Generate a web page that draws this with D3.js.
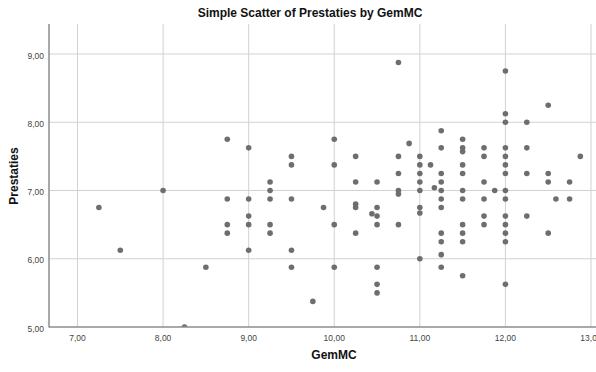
<!DOCTYPE html>
<html>
<head>
<meta charset="utf-8">
<script src="https://cdn.jsdelivr.net/npm/d3@7"></script>
<style>
  body { margin: 0; background: #fff; }
  svg { display: block; font-family: "Liberation Sans", Arial, sans-serif; }
</style>
</head>
<body>
<div id="chart"></div>
<script>
// data
const gemMC = [
  7.25, 7.5, 8.0, 8.25, 8.5, 8.75, 8.75, 8.75, 8.75,
  9.0, 9.0, 9.0, 9.0, 9.0, 9.25, 9.25, 9.25, 9.25, 9.25,
  9.5, 9.5, 9.5, 9.5, 9.5, 9.75, 9.875,
  10.0, 10.0, 10.0, 10.0, 10.25, 10.25, 10.25, 10.25, 10.25, 10.44,
  10.5, 10.5, 10.5, 10.5, 10.5, 10.5, 10.5,
  10.75, 10.75, 10.75, 10.75, 10.75, 10.75, 10.875,
  11.0, 11.0, 11.0, 11.0, 11.0, 11.0, 11.0, 11.0, 11.125, 11.17,
  11.25, 11.25, 11.25, 11.25, 11.25, 11.25, 11.25, 11.25, 11.25, 11.25, 11.25,
  11.5, 11.5, 11.5, 11.5, 11.5, 11.5, 11.5, 11.5, 11.5, 11.5, 11.5,
  11.75, 11.75, 11.75, 11.75, 11.75, 11.75, 11.875,
  12.0, 12.0, 12.0, 12.0, 12.0, 12.0, 12.0, 12.0, 12.0, 12.0, 12.0, 12.0, 12.0, 12.0,
  12.25, 12.25, 12.25, 12.25, 12.5, 12.5, 12.5, 12.5, 12.59, 12.75, 12.75, 12.875
];
const prestaties = [
  6.75, 6.125, 7.0, 5.0, 5.875, 7.75, 6.875, 6.5, 6.375,
  7.625, 6.875, 6.625, 6.5, 6.125, 7.125, 7.0, 6.875, 6.5, 6.375,
  7.5, 7.375, 6.875, 6.125, 5.875, 5.375, 6.75,
  7.75, 7.375, 6.5, 5.875, 7.5, 7.125, 6.8, 6.75, 6.375, 6.66,
  7.125, 6.75, 6.625, 6.5, 5.875, 5.625, 5.5,
  8.875, 7.5, 7.25, 7.0, 6.95, 6.5, 7.69,
  7.5, 7.375, 7.25, 7.125, 7.0, 6.75, 6.67, 6.0, 7.375, 7.04,
  7.875, 7.625, 7.25, 7.125, 7.0, 6.875, 6.75, 6.375, 6.25, 6.06, 5.875,
  7.75, 7.625, 7.57, 7.375, 7.25, 7.0, 6.875, 6.5, 6.375, 6.25, 5.75,
  7.625, 7.5, 7.125, 6.875, 6.625, 6.5, 7.0,
  8.75, 8.125, 8.0, 7.625, 7.5, 7.375, 7.25, 7.0, 6.875, 6.625, 6.5, 6.375, 6.25, 5.625,
  8.0, 7.625, 7.25, 6.625, 8.25, 7.25, 7.125, 6.375, 6.875, 7.125, 6.875, 7.5
];
const xTicks = [7, 8, 9, 10, 11, 12, 13];
const yTicks = [5, 6, 7, 8, 9];

const width = 596;
const height = 372;

// plot frame in pixels
const plotLeft = 49;
const plotTop = 24;
const plotBottom = 327;
const plotRight = 600;

const x = d3.scaleLinear().domain([7, 13]).range([77.5, 591]);
const y = d3.scaleLinear().domain([5, 9]).range([plotBottom, 54]);

const fmt = d3.formatLocale({decimal: ',', thousands: '.', grouping: [3], currency: ['', '']}).format('.2f');

const svg = d3.select('#chart').append('svg')
  .attr('width', width)
  .attr('height', height);

// grid
const grid = svg.append('g').attr('class', 'grid');
grid.selectAll('line.v')
  .data(xTicks)
  .enter()
  .append('line')
  .attr('class', 'v')
  .attr('x1', d => x(d)).attr('x2', d => x(d))
  .attr('y1', plotTop).attr('y2', plotBottom)
  .attr('stroke', '#d2d2d2')
  .attr('stroke-width', 1);
grid.selectAll('line.h')
  .data(yTicks.filter(d => d > 5))
  .enter()
  .append('line')
  .attr('class', 'h')
  .attr('x1', plotLeft).attr('x2', plotRight)
  .attr('y1', d => y(d)).attr('y2', d => y(d))
  .attr('stroke', '#d2d2d2')
  .attr('stroke-width', 1);

// points
svg.append('clipPath').attr('id', 'plotClip')
  .append('rect')
  .attr('x', plotLeft).attr('y', plotTop)
  .attr('width', plotRight - plotLeft).attr('height', plotBottom - plotTop);

svg.append('g')
  .attr('clip-path', 'url(#plotClip)')
  .selectAll('circle')
  .data(d3.range(gemMC.length))
  .enter()
  .append('circle')
  .attr('cx', i => x(gemMC[i]))
  .attr('cy', i => y(prestaties[i]))
  .attr('r', 2.8)
  .attr('fill', '#6e6e6e');

// axis lines
svg.append('line')
  .attr('x1', plotLeft).attr('x2', plotLeft)
  .attr('y1', plotTop).attr('y2', plotBottom + 0.5)
  .attr('stroke', '#8c8c8c').attr('stroke-width', 1.5);
svg.append('line')
  .attr('x1', plotLeft).attr('x2', plotRight)
  .attr('y1', plotBottom).attr('y2', plotBottom)
  .attr('stroke', '#8c8c8c').attr('stroke-width', 1.5);

// tick labels
svg.append('g')
  .selectAll('text')
  .data(xTicks)
  .enter()
  .append('text')
  .attr('x', d => x(d))
  .attr('y', plotBottom + 13.5)
  .attr('text-anchor', 'middle')
  .attr('font-size', 8.5)
  .attr('fill', '#444')
  .text(fmt);

svg.append('g')
  .selectAll('text')
  .data(yTicks)
  .enter()
  .append('text')
  .attr('x', plotLeft - 5)
  .attr('y', d => y(d) + 4.5)
  .attr('text-anchor', 'end')
  .attr('font-size', 8.5)
  .attr('fill', '#444')
  .text(fmt);

// titles
svg.append('text')
  .attr('x', 310)
  .attr('y', 17)
  .attr('text-anchor', 'middle')
  .attr('font-size', 12)
  .attr('font-weight', 'bold')
  .attr('fill', '#111')
  .text('Simple Scatter of Prestaties by GemMC');

svg.append('text')
  .attr('x', 334)
  .attr('y', 359)
  .attr('text-anchor', 'middle')
  .attr('font-size', 12)
  .attr('font-weight', 'bold')
  .attr('fill', '#111')
  .text('GemMC');

svg.append('text')
  .attr('transform', 'translate(18,176) rotate(-90)')
  .attr('text-anchor', 'middle')
  .attr('font-size', 12)
  .attr('font-weight', 'bold')
  .attr('fill', '#111')
  .text('Prestaties');
</script>
</body>
</html>
